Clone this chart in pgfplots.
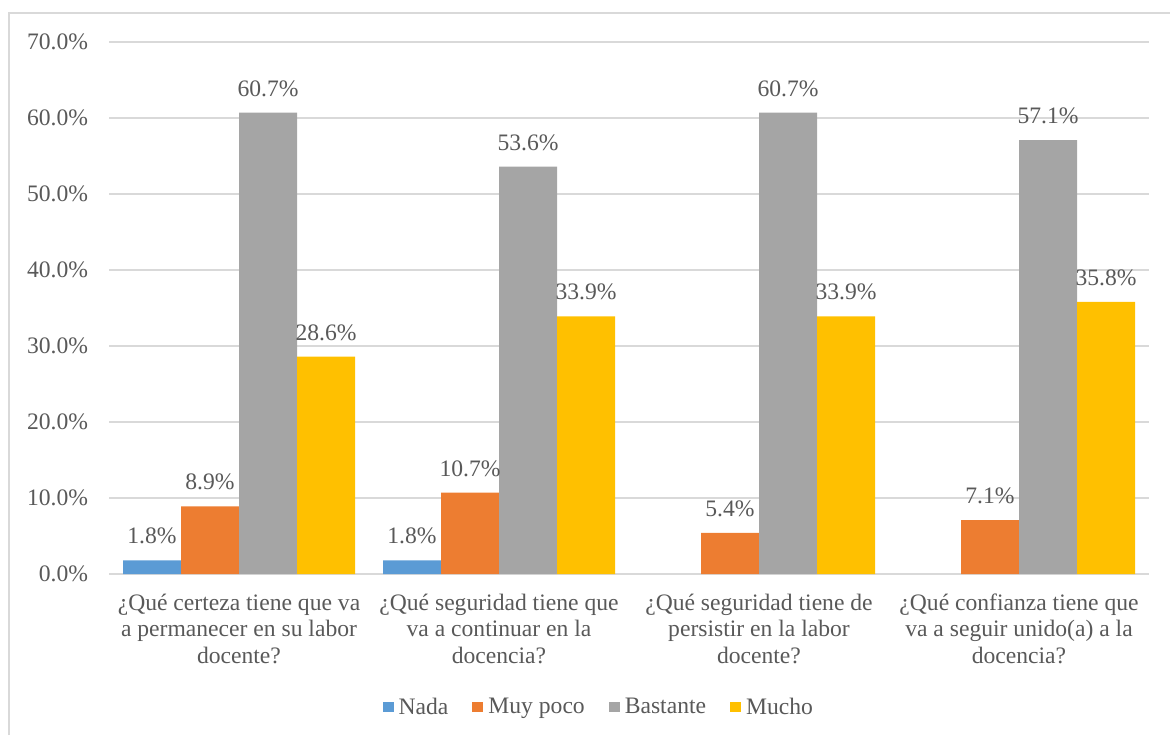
\documentclass[border=0pt]{standalone}
\usepackage{fontspec}
\setmainfont{Liberation Serif}
\usepackage{pgfplots}
\pgfplotsset{compat=1.18}

\definecolor{nada}{HTML}{5B9BD5}
\definecolor{muypoco}{HTML}{ED7D31}
\definecolor{bastante}{HTML}{A5A5A5}
\definecolor{mucho}{HTML}{FFC000}
\definecolor{txtgray}{HTML}{595959}
\definecolor{gridgray}{HTML}{D9D9D9}

\begin{document}
\begin{tikzpicture}
\path[use as bounding box] (0,0) rectangle (877.5pt,-551.25pt);
% chart frame
\draw[gridgray, line width=1.5pt] (6.9pt,-551.25pt) -- (6.9pt,-9.9pt) -- (877.5pt,-9.9pt);
\begin{axis}[
  at={(81.75pt,-430.5pt)}, anchor=south west,
  scale only axis, width=780pt, height=399pt,
  font=\fontsize{17.7}{20}\selectfont,
  ymin=0, ymax=70, ytick={0,10,...,70},
  xmin=-0.5, xmax=3.5, xtick={0,1,2,3},
  xticklabels={
    {¿Qué certeza tiene que va\\a permanecer en su labor\\docente?},
    {¿Qué seguridad tiene que\\va a continuar en la\\docencia?},
    {¿Qué seguridad tiene de\\persistir en la labor\\docente?},
    {¿Qué confianza tiene que\\va a seguir unido(a) a la\\docencia?}},
  xticklabel style={align=center, anchor=north, inner sep=0pt, yshift=-14.5pt, text=txtgray},
  yticklabel={\pgfmathprintnumber[fixed,fixed zerofill,precision=1]{\tick}\%},
  yticklabel style={anchor=east, inner sep=0pt, xshift=-15.5pt, text=txtgray},
  /pgf/number format/assume math mode=true,
  ybar=0pt, bar width=43.5pt,
  axis line style={draw=none},
  major tick length=0pt,
  ymajorgrids, grid style={gridgray, line width=0.9pt},
  nodes near coords={\pgfmathprintnumber[fixed,fixed zerofill,precision=1]{\pgfplotspointmeta}\%},
  every node near coord/.append style={anchor=south, inner sep=0pt, yshift=12pt, text=txtgray,
    font=\fontsize{17.7}{20}\selectfont},
  legend style={at={(0.47,-0.25)}, anchor=center, draw=none, legend columns=4,
    font=\fontsize{17.7}{20}\selectfont, text=txtgray,
    nodes={inner sep=0pt}, column sep=3.75pt,
    /tikz/every even column/.append style={column sep=18pt}},
  legend image code/.code={\fill[#1] (0pt,-4.1pt) rectangle (8.25pt,4.1pt);},
]
\addplot[fill=nada, draw=none] coordinates {(0,1.8) (1,1.8)};
\addplot[fill=muypoco, draw=none] coordinates {(0,8.9) (1,10.7) (2,5.4) (3,7.1)};
\addplot[fill=bastante, draw=none] coordinates {(0,60.7) (1,53.6) (2,60.7) (3,57.1)};
\addplot[fill=mucho, draw=none] coordinates {(0,28.6) (1,33.9) (2,33.9) (3,35.8)};
\legend{Nada, Muy poco, Bastante, Mucho}
\end{axis}
\end{tikzpicture}
\end{document}
